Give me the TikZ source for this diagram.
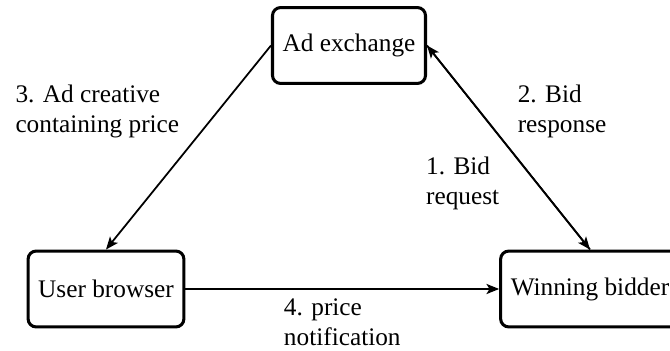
\documentclass[tikz,border=0pt]{standalone}
\usepackage{fontspec}
\setmainfont{Liberation Serif}
\usetikzlibrary{arrows.meta}
\begin{document}
\begin{tikzpicture}[x=0.3953pt, y=-0.3953pt,
  party/.style={draw, line width=1.2pt, rounded corners=3.2pt, inner xsep=4pt, minimum height=30pt, font=\fontsize{10}{12}\selectfont},
  conn/.style={line width=0.7pt, -{Stealth[length=5pt, width=4pt, inset=1.2pt]}},
  lbl/.style={align=left, font=\fontsize{10}{12}\selectfont}]
  \clip (0,0) rectangle (670,351);
  \node[party] (adx) at (349,45.5) {Ad exchange};
  \node[party] (ub) at (106,289) {User browser};
  \node[party] (wb) at (590,289) {Winning bidder};
  \draw[conn] (adx.east) -- node[lbl, midway, below left] {1. Bid\\request} (wb.north);
  \draw[conn] (wb.north) -- node[lbl, midway, above right] {2. Bid\\response} (adx.east);
  \draw[conn] (adx.west) -- node[lbl, midway, above left] {3. Ad creative\\containing price} (ub.north);
  \draw[conn] (ub.east) -- node[lbl, midway, below] {4. price\\notification} (wb.west);
\end{tikzpicture}
\end{document}
